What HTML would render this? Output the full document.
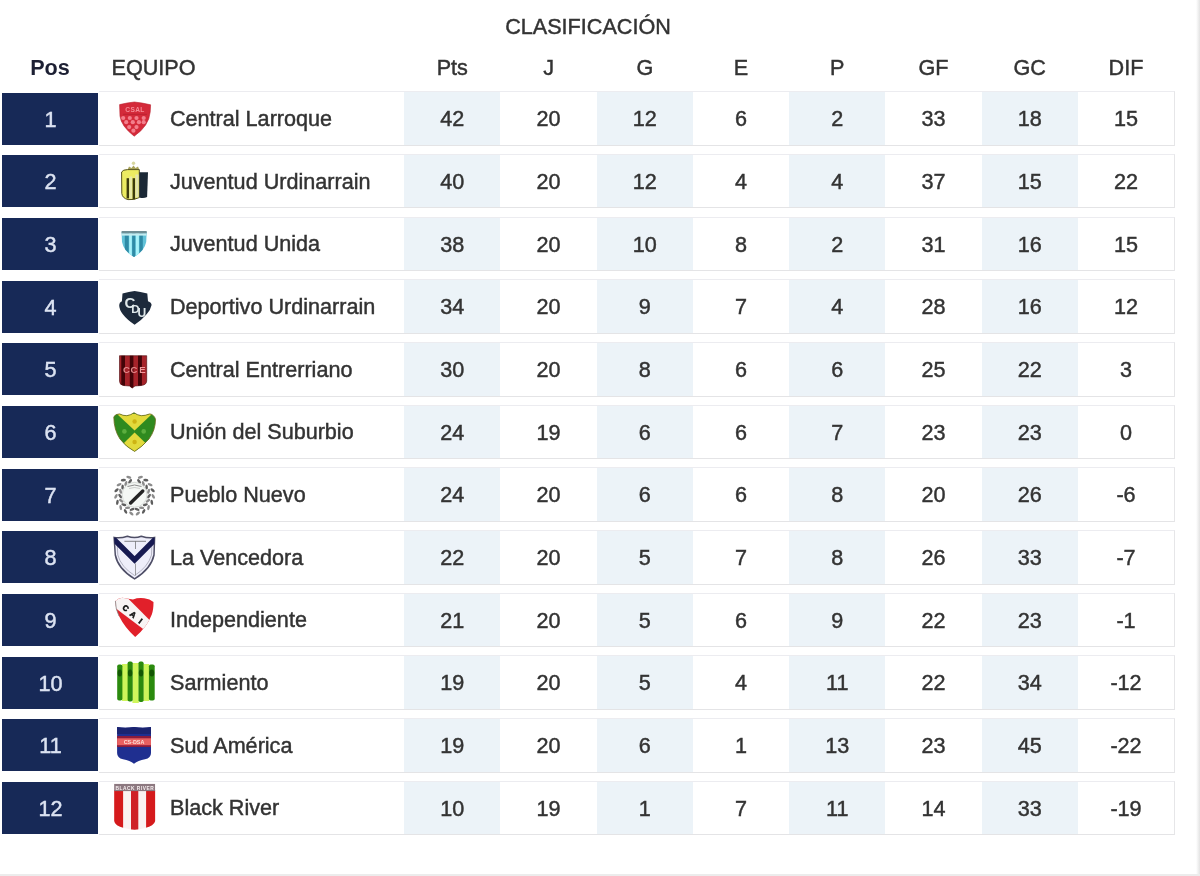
<!DOCTYPE html><html><head><meta charset="utf-8"><title>Clasificación</title><style>
*{margin:0;padding:0;box-sizing:border-box}
html,body{width:1200px;height:876px;overflow:hidden;background:#fff}
body{position:relative;font-family:"Liberation Sans",Arial,sans-serif;color:#333;font-size:21.6px;-webkit-text-stroke:0.45px currentColor}
svg text{-webkit-text-stroke:0}
.wrap{position:absolute;left:0;top:0;width:1200px;height:876px;background:#fff;filter:blur(0.45px)}
.s{display:inline-block;transform:scaleX(1.0)}
.sl{display:inline-block;transform:scaleX(1.0);transform-origin:0 50%}
.frame-r{position:absolute;right:0;top:0;width:4px;height:876px;background:linear-gradient(to right,#fff,#e3e3e3)}
.frame-b{position:absolute;left:0;bottom:0;width:1200px;height:2px;background:#ececec}
.title{position:absolute;left:0;width:1176px;top:14.8px;text-align:center;line-height:24px;color:#333}
.h{position:absolute;top:56px;line-height:24px;color:#333;text-align:center;width:96.25px}
.hpos{position:absolute;top:56px;left:2px;width:96px;text-align:center;font-weight:bold;line-height:24px;color:#1c1f33;-webkit-text-stroke:0}
.heq{position:absolute;top:56px;left:111.5px;line-height:24px;color:#333}
.row{position:absolute;left:98.5px;width:1076px;height:54.5px;border-top:1px solid #ececf0;border-bottom:1px solid #e4e4e6;border-right:1px solid #e6e6e8;background:#fff}
.pos{position:absolute;left:2.4px;width:96.1px;height:52px;background:#172957;color:#dce3f2;line-height:53px;text-align:center}
.team{position:absolute;left:71.5px;top:0.6px;line-height:52px;color:#333;white-space:nowrap}
.c{position:absolute;top:0;height:52.5px;text-align:center;line-height:53.4px;color:#333}
.c.b{background:#ecf3f8}
.logo{position:absolute;left:105px;width:60px;height:53px}
.logo svg{display:block}
</style></head><body><div class="wrap">
<div class="title"><span class="s">CLASIFICACIÓN</span></div>
<div class="hpos"><span class="s">Pos</span></div><div class="heq"><span class="sl">EQUIPO</span></div>
<div class="h" style="left:404.20px;width:96.24px"><span class="s">Pts</span></div>
<div class="h" style="left:500.44px;width:96.24px"><span class="s">J</span></div>
<div class="h" style="left:596.68px;width:96.24px"><span class="s">G</span></div>
<div class="h" style="left:692.92px;width:96.24px"><span class="s">E</span></div>
<div class="h" style="left:789.16px;width:96.24px"><span class="s">P</span></div>
<div class="h" style="left:885.40px;width:96.24px"><span class="s">GF</span></div>
<div class="h" style="left:981.64px;width:96.24px"><span class="s">GC</span></div>
<div class="h" style="left:1077.88px;width:96.24px"><span class="s">DIF</span></div>
<div class="pos" style="top:92.50px"><span class="s">1</span></div>
<div class="row" style="top:91.30px">
<div class="team"><span class="sl">Central Larroque</span></div>
<div class="c b" style="left:305.70px;width:96.24px"><span class="s">42</span></div>
<div class="c" style="left:401.94px;width:96.24px"><span class="s">20</span></div>
<div class="c b" style="left:498.18px;width:96.24px"><span class="s">12</span></div>
<div class="c" style="left:594.42px;width:96.24px"><span class="s">6</span></div>
<div class="c b" style="left:690.66px;width:96.24px"><span class="s">2</span></div>
<div class="c" style="left:786.90px;width:96.24px"><span class="s">33</span></div>
<div class="c b" style="left:883.14px;width:96.24px"><span class="s">18</span></div>
<div class="c" style="left:979.38px;width:96.24px"><span class="s">15</span></div>
</div>
<div class="pos" style="top:155.18px"><span class="s">2</span></div>
<div class="row" style="top:153.98px">
<div class="team"><span class="sl">Juventud Urdinarrain</span></div>
<div class="c b" style="left:305.70px;width:96.24px"><span class="s">40</span></div>
<div class="c" style="left:401.94px;width:96.24px"><span class="s">20</span></div>
<div class="c b" style="left:498.18px;width:96.24px"><span class="s">12</span></div>
<div class="c" style="left:594.42px;width:96.24px"><span class="s">4</span></div>
<div class="c b" style="left:690.66px;width:96.24px"><span class="s">4</span></div>
<div class="c" style="left:786.90px;width:96.24px"><span class="s">37</span></div>
<div class="c b" style="left:883.14px;width:96.24px"><span class="s">15</span></div>
<div class="c" style="left:979.38px;width:96.24px"><span class="s">22</span></div>
</div>
<div class="pos" style="top:217.86px"><span class="s">3</span></div>
<div class="row" style="top:216.66px">
<div class="team"><span class="sl">Juventud Unida</span></div>
<div class="c b" style="left:305.70px;width:96.24px"><span class="s">38</span></div>
<div class="c" style="left:401.94px;width:96.24px"><span class="s">20</span></div>
<div class="c b" style="left:498.18px;width:96.24px"><span class="s">10</span></div>
<div class="c" style="left:594.42px;width:96.24px"><span class="s">8</span></div>
<div class="c b" style="left:690.66px;width:96.24px"><span class="s">2</span></div>
<div class="c" style="left:786.90px;width:96.24px"><span class="s">31</span></div>
<div class="c b" style="left:883.14px;width:96.24px"><span class="s">16</span></div>
<div class="c" style="left:979.38px;width:96.24px"><span class="s">15</span></div>
</div>
<div class="pos" style="top:280.54px"><span class="s">4</span></div>
<div class="row" style="top:279.34px">
<div class="team"><span class="sl">Deportivo Urdinarrain</span></div>
<div class="c b" style="left:305.70px;width:96.24px"><span class="s">34</span></div>
<div class="c" style="left:401.94px;width:96.24px"><span class="s">20</span></div>
<div class="c b" style="left:498.18px;width:96.24px"><span class="s">9</span></div>
<div class="c" style="left:594.42px;width:96.24px"><span class="s">7</span></div>
<div class="c b" style="left:690.66px;width:96.24px"><span class="s">4</span></div>
<div class="c" style="left:786.90px;width:96.24px"><span class="s">28</span></div>
<div class="c b" style="left:883.14px;width:96.24px"><span class="s">16</span></div>
<div class="c" style="left:979.38px;width:96.24px"><span class="s">12</span></div>
</div>
<div class="pos" style="top:343.22px"><span class="s">5</span></div>
<div class="row" style="top:342.02px">
<div class="team"><span class="sl">Central Entrerriano</span></div>
<div class="c b" style="left:305.70px;width:96.24px"><span class="s">30</span></div>
<div class="c" style="left:401.94px;width:96.24px"><span class="s">20</span></div>
<div class="c b" style="left:498.18px;width:96.24px"><span class="s">8</span></div>
<div class="c" style="left:594.42px;width:96.24px"><span class="s">6</span></div>
<div class="c b" style="left:690.66px;width:96.24px"><span class="s">6</span></div>
<div class="c" style="left:786.90px;width:96.24px"><span class="s">25</span></div>
<div class="c b" style="left:883.14px;width:96.24px"><span class="s">22</span></div>
<div class="c" style="left:979.38px;width:96.24px"><span class="s">3</span></div>
</div>
<div class="pos" style="top:405.90px"><span class="s">6</span></div>
<div class="row" style="top:404.70px">
<div class="team"><span class="sl">Unión del Suburbio</span></div>
<div class="c b" style="left:305.70px;width:96.24px"><span class="s">24</span></div>
<div class="c" style="left:401.94px;width:96.24px"><span class="s">19</span></div>
<div class="c b" style="left:498.18px;width:96.24px"><span class="s">6</span></div>
<div class="c" style="left:594.42px;width:96.24px"><span class="s">6</span></div>
<div class="c b" style="left:690.66px;width:96.24px"><span class="s">7</span></div>
<div class="c" style="left:786.90px;width:96.24px"><span class="s">23</span></div>
<div class="c b" style="left:883.14px;width:96.24px"><span class="s">23</span></div>
<div class="c" style="left:979.38px;width:96.24px"><span class="s">0</span></div>
</div>
<div class="pos" style="top:468.58px"><span class="s">7</span></div>
<div class="row" style="top:467.38px">
<div class="team"><span class="sl">Pueblo Nuevo</span></div>
<div class="c b" style="left:305.70px;width:96.24px"><span class="s">24</span></div>
<div class="c" style="left:401.94px;width:96.24px"><span class="s">20</span></div>
<div class="c b" style="left:498.18px;width:96.24px"><span class="s">6</span></div>
<div class="c" style="left:594.42px;width:96.24px"><span class="s">6</span></div>
<div class="c b" style="left:690.66px;width:96.24px"><span class="s">8</span></div>
<div class="c" style="left:786.90px;width:96.24px"><span class="s">20</span></div>
<div class="c b" style="left:883.14px;width:96.24px"><span class="s">26</span></div>
<div class="c" style="left:979.38px;width:96.24px"><span class="s">-6</span></div>
</div>
<div class="pos" style="top:531.26px"><span class="s">8</span></div>
<div class="row" style="top:530.06px">
<div class="team"><span class="sl">La Vencedora</span></div>
<div class="c b" style="left:305.70px;width:96.24px"><span class="s">22</span></div>
<div class="c" style="left:401.94px;width:96.24px"><span class="s">20</span></div>
<div class="c b" style="left:498.18px;width:96.24px"><span class="s">5</span></div>
<div class="c" style="left:594.42px;width:96.24px"><span class="s">7</span></div>
<div class="c b" style="left:690.66px;width:96.24px"><span class="s">8</span></div>
<div class="c" style="left:786.90px;width:96.24px"><span class="s">26</span></div>
<div class="c b" style="left:883.14px;width:96.24px"><span class="s">33</span></div>
<div class="c" style="left:979.38px;width:96.24px"><span class="s">-7</span></div>
</div>
<div class="pos" style="top:593.94px"><span class="s">9</span></div>
<div class="row" style="top:592.74px">
<div class="team"><span class="sl">Independiente</span></div>
<div class="c b" style="left:305.70px;width:96.24px"><span class="s">21</span></div>
<div class="c" style="left:401.94px;width:96.24px"><span class="s">20</span></div>
<div class="c b" style="left:498.18px;width:96.24px"><span class="s">5</span></div>
<div class="c" style="left:594.42px;width:96.24px"><span class="s">6</span></div>
<div class="c b" style="left:690.66px;width:96.24px"><span class="s">9</span></div>
<div class="c" style="left:786.90px;width:96.24px"><span class="s">22</span></div>
<div class="c b" style="left:883.14px;width:96.24px"><span class="s">23</span></div>
<div class="c" style="left:979.38px;width:96.24px"><span class="s">-1</span></div>
</div>
<div class="pos" style="top:656.62px"><span class="s">10</span></div>
<div class="row" style="top:655.42px">
<div class="team"><span class="sl">Sarmiento</span></div>
<div class="c b" style="left:305.70px;width:96.24px"><span class="s">19</span></div>
<div class="c" style="left:401.94px;width:96.24px"><span class="s">20</span></div>
<div class="c b" style="left:498.18px;width:96.24px"><span class="s">5</span></div>
<div class="c" style="left:594.42px;width:96.24px"><span class="s">4</span></div>
<div class="c b" style="left:690.66px;width:96.24px"><span class="s">11</span></div>
<div class="c" style="left:786.90px;width:96.24px"><span class="s">22</span></div>
<div class="c b" style="left:883.14px;width:96.24px"><span class="s">34</span></div>
<div class="c" style="left:979.38px;width:96.24px"><span class="s">-12</span></div>
</div>
<div class="pos" style="top:719.30px"><span class="s">11</span></div>
<div class="row" style="top:718.10px">
<div class="team"><span class="sl">Sud América</span></div>
<div class="c b" style="left:305.70px;width:96.24px"><span class="s">19</span></div>
<div class="c" style="left:401.94px;width:96.24px"><span class="s">20</span></div>
<div class="c b" style="left:498.18px;width:96.24px"><span class="s">6</span></div>
<div class="c" style="left:594.42px;width:96.24px"><span class="s">1</span></div>
<div class="c b" style="left:690.66px;width:96.24px"><span class="s">13</span></div>
<div class="c" style="left:786.90px;width:96.24px"><span class="s">23</span></div>
<div class="c b" style="left:883.14px;width:96.24px"><span class="s">45</span></div>
<div class="c" style="left:979.38px;width:96.24px"><span class="s">-22</span></div>
</div>
<div class="pos" style="top:781.98px"><span class="s">12</span></div>
<div class="row" style="top:780.78px">
<div class="team"><span class="sl">Black River</span></div>
<div class="c b" style="left:305.70px;width:96.24px"><span class="s">10</span></div>
<div class="c" style="left:401.94px;width:96.24px"><span class="s">19</span></div>
<div class="c b" style="left:498.18px;width:96.24px"><span class="s">1</span></div>
<div class="c" style="left:594.42px;width:96.24px"><span class="s">7</span></div>
<div class="c b" style="left:690.66px;width:96.24px"><span class="s">11</span></div>
<div class="c" style="left:786.90px;width:96.24px"><span class="s">14</span></div>
<div class="c b" style="left:883.14px;width:96.24px"><span class="s">33</span></div>
<div class="c" style="left:979.38px;width:96.24px"><span class="s">-19</span></div>
</div>
<div class="logo" style="top:92px"><svg width="60" height="53" viewBox="0 0 60 53"><path d="M14.6,12.6 Q22,10.8 29.4,10 Q37,10.8 45.6,12.8 L45.2,20 Q44,34 29.2,44.2 Q16,34 15,24 Z" fill="#d42a3a" stroke="#b8202e" stroke-width="0.6"/><text x="29.8" y="20.4" font-family="Liberation Sans" font-weight="bold" font-size="6.6" fill="#f58b96" text-anchor="middle" textLength="19">CSAL</text><line x1="18" y1="22.3" x2="42" y2="22.3" stroke="#b81e2e" stroke-width="0.8"/><circle cx="18.2" cy="26" r="2.1" fill="#f37f8c"/><circle cx="24.8" cy="26" r="2.1" fill="#f37f8c"/><circle cx="31.5" cy="26" r="2.1" fill="#f37f8c"/><circle cx="38.7" cy="26" r="2.1" fill="#f37f8c"/><circle cx="21.2" cy="30.2" r="2.1" fill="#f37f8c"/><circle cx="27.8" cy="30.2" r="2.1" fill="#f37f8c"/><circle cx="33.9" cy="30.2" r="2.1" fill="#f37f8c"/><circle cx="38.7" cy="30.2" r="2.1" fill="#f37f8c"/><circle cx="24.2" cy="35.1" r="2.1" fill="#f37f8c"/><circle cx="31.5" cy="35.1" r="2.1" fill="#f37f8c"/><circle cx="28.4" cy="38.7" r="2.1" fill="#f37f8c"/></svg></div>
<div class="logo" style="top:155px"><svg width="60" height="53" viewBox="0 0 60 53"><circle cx="28.5" cy="8.2" r="1.7" fill="#d8d7a0"/><path d="M22.6,14.8 L24,11.6 L26.5,13 L28.5,10.6 L30.5,13 L33,11.6 L34.3,14.8 Z" fill="#a9a45a"/><path d="M16.6,17 Q18,14.6 22.6,14.6 L34.3,14.6 L34.3,42.5 Q29,45.3 23,44.6 Q17.4,43.2 16.8,38.5 Z" fill="#ecec62" stroke="#55521e" stroke-width="1"/><path d="M34.3,17.2 L43,17.2 L42.1,42 Q38.5,43.6 34.3,42.4 Z" fill="#1b2836"/><rect x="21.6" y="23.2" width="2.5" height="20.2" fill="#3c3b0c"/><rect x="27.5" y="23.2" width="2.6" height="21" fill="#3c3b0c"/><rect x="24.3" y="21.5" width="2.9" height="22.2" fill="#e9eaa6"/><rect x="30.4" y="19.5" width="3.1" height="23" fill="#e4e5ae"/></svg></div>
<div class="logo" style="top:218px"><svg width="60" height="53" viewBox="0 0 60 53"><defs><clipPath id="c3"><path d="M16.6,14 L41.7,14 L41.2,24 Q39.5,33 29,38.9 Q18.5,33 17,24 Z"/></clipPath></defs><path d="M16.6,14 L41.7,14 L41.2,24 Q39.5,33 29,38.9 Q18.5,33 17,24 Z" fill="#62c2d8"/><g clip-path="url(#c3)"><rect x="19.8" y="15" width="3.9" height="26" fill="#2f8ba6"/><rect x="27.2" y="15" width="3" height="26" fill="#2f8ba6"/><rect x="34.4" y="15" width="3.4" height="26" fill="#2f8ba6"/><rect x="24.2" y="15" width="2.6" height="26" fill="#a8f3fa"/><rect x="30.9" y="15" width="3" height="26" fill="#a8f3fa"/></g><rect x="17" y="15.2" width="24.4" height="2.4" fill="#c4ecf0"/><rect x="16.6" y="13" width="25.1" height="2.3" fill="#6f8f96"/></svg></div>
<div class="logo" style="top:280px"><svg width="60" height="53" viewBox="0 0 60 53"><path d="M17.5,13.6 Q24,11.5 29.6,10.9 Q35,11.5 42.3,13.6 L43,21.2 Q46.6,22.5 46.6,25 Q45,34 29.6,44.8 Q14,34 14.2,25 Q14.2,22.5 16.9,21.2 Z" fill="#1d2a3b"/><text x="19.6" y="27.6" font-family="Liberation Sans" font-weight="bold" font-size="15" fill="#dfe8ea">C</text><text x="26.2" y="32.6" font-family="Liberation Sans" font-weight="bold" font-size="11.5" fill="#dfe8ea">D</text><text x="32.4" y="37.2" font-family="Liberation Sans" font-weight="bold" font-size="12" fill="#dfe8ea">U</text></svg></div>
<div class="logo" style="top:343px"><svg width="60" height="53" viewBox="0 0 60 53"><defs><clipPath id="c5"><path d="M14.5,12.7 L41.7,12.7 L41.7,38 Q41.5,42 36,42.5 L30,43 L27.2,45.1 L24.5,43 L18.5,42.5 Q14.5,42 14.5,38 Z"/></clipPath></defs><path d="M14.5,12.7 L41.7,12.7 L41.7,38 Q41.5,42 36,42.5 L30,43 L27.2,45.1 L24.5,43 L18.5,42.5 Q14.5,42 14.5,38 Z" fill="#a6232a" stroke="#4a080c" stroke-width="0.6"/><g clip-path="url(#c5)"><rect x="16.3" y="12" width="3.7" height="35" fill="#420408"/><rect x="24.8" y="12" width="3.6" height="35" fill="#420408"/><rect x="33" y="12" width="3.9" height="35" fill="#420408"/></g><text x="18" y="30" font-family="Liberation Sans" font-weight="bold" font-size="9.5" fill="#e48a8c">C</text><text x="25.4" y="30" font-family="Liberation Sans" font-weight="bold" font-size="9.5" fill="#e48a8c">C</text><text x="34.3" y="30" font-family="Liberation Sans" font-weight="bold" font-size="9.5" fill="#f09a9c">E</text></svg></div>
<div class="logo" style="top:406px"><svg width="60" height="53" viewBox="0 0 60 53"><defs><clipPath id="c6"><path d="M8.8,11 Q10,8 14.5,7.9 Q18,9.7 21.8,9.7 Q26,9 29,6.7 Q32,9 36.3,9.7 Q40,9.7 44.8,7.9 Q49,8.5 50.5,13.3 Q50.5,24 44,33 Q37,41 29.6,45.4 Q21,41 15,33 Q9,24 8.8,11 Z"/></clipPath></defs><path d="M8.8,11 Q10,8 14.5,7.9 Q18,9.7 21.8,9.7 Q26,9 29,6.7 Q32,9 36.3,9.7 Q40,9.7 44.8,7.9 Q49,8.5 50.5,13.3 Q50.5,24 44,33 Q37,41 29.6,45.4 Q21,41 15,33 Q9,24 8.8,11 Z" fill="#2f8a1f"/><g clip-path="url(#c6)"><path d="M12,8 L47,8 L29.6,24.5 Z" fill="#e2da3c"/><path d="M29.6,26.5 L41,37.5 L29.6,47 L18.5,37.5 Z" fill="#e2da3c"/></g><circle cx="19.4" cy="25.4" r="2.3" fill="#5cae3e"/><circle cx="38.7" cy="25.4" r="2.3" fill="#5cae3e"/><circle cx="29.6" cy="15.5" r="2.2" fill="#cdb414"/><circle cx="29.6" cy="36" r="2.2" fill="#cdb414"/><path d="M8.8,11 Q10,8 14.5,7.9 Q18,9.7 21.8,9.7 Q26,9 29,6.7 Q32,9 36.3,9.7 Q40,9.7 44.8,7.9 Q49,8.5 50.5,13.3 Q50.5,24 44,33 Q37,41 29.6,45.4 Q21,41 15,33 Q9,24 8.8,11 Z" fill="none" stroke="#6b6a1c" stroke-width="0.8"/></svg></div>
<div class="logo" style="top:468px"><svg width="60" height="53" viewBox="0 0 60 53"><circle cx="29.6" cy="26.8" r="13.2" fill="#f3f6f3"/><ellipse cx="27.08" cy="41.38" rx="2.6" ry="1.3" transform="rotate(158.0 27.08 41.38)" fill="#5e5e5e"/><ellipse cx="26.35" cy="45.52" rx="2.6" ry="1.3" transform="rotate(222.0 26.35 45.52)" fill="#8c8c8c"/><ellipse cx="22.57" cy="39.78" rx="2.6" ry="1.3" transform="rotate(177.0 22.57 39.78)" fill="#8c8c8c"/><ellipse cx="20.53" cy="43.46" rx="2.6" ry="1.3" transform="rotate(241.0 20.53 43.46)" fill="#5e5e5e"/><ellipse cx="18.82" cy="36.80" rx="2.6" ry="1.3" transform="rotate(196.0 18.82 36.80)" fill="#5e5e5e"/><ellipse cx="15.70" cy="39.61" rx="2.6" ry="1.3" transform="rotate(260.0 15.70 39.61)" fill="#8c8c8c"/><ellipse cx="16.25" cy="32.77" rx="2.6" ry="1.3" transform="rotate(215.0 16.25 32.77)" fill="#8c8c8c"/><ellipse cx="12.39" cy="34.41" rx="2.6" ry="1.3" transform="rotate(279.0 12.39 34.41)" fill="#5e5e5e"/><ellipse cx="15.14" cy="28.11" rx="2.6" ry="1.3" transform="rotate(234.0 15.14 28.11)" fill="#5e5e5e"/><ellipse cx="10.95" cy="28.40" rx="2.6" ry="1.3" transform="rotate(298.0 10.95 28.40)" fill="#8c8c8c"/><ellipse cx="15.59" cy="23.35" rx="2.6" ry="1.3" transform="rotate(253.0 15.59 23.35)" fill="#8c8c8c"/><ellipse cx="11.54" cy="22.26" rx="2.6" ry="1.3" transform="rotate(317.0 11.54 22.26)" fill="#5e5e5e"/><ellipse cx="17.58" cy="18.99" rx="2.6" ry="1.3" transform="rotate(272.0 17.58 18.99)" fill="#5e5e5e"/><ellipse cx="14.10" cy="16.64" rx="2.6" ry="1.3" transform="rotate(336.0 14.10 16.64)" fill="#8c8c8c"/><ellipse cx="20.87" cy="15.52" rx="2.6" ry="1.3" transform="rotate(291.0 20.87 15.52)" fill="#8c8c8c"/><ellipse cx="18.35" cy="12.17" rx="2.6" ry="1.3" transform="rotate(355.0 18.35 12.17)" fill="#5e5e5e"/><ellipse cx="25.12" cy="13.31" rx="2.6" ry="1.3" transform="rotate(310.0 25.12 13.31)" fill="#5e5e5e"/><ellipse cx="23.82" cy="9.32" rx="2.6" ry="1.3" transform="rotate(374.0 23.82 9.32)" fill="#8c8c8c"/><ellipse cx="32.12" cy="41.38" rx="2.6" ry="1.3" transform="rotate(22.0 32.12 41.38)" fill="#5e5e5e"/><ellipse cx="32.85" cy="45.52" rx="2.6" ry="1.3" transform="rotate(-42.0 32.85 45.52)" fill="#8c8c8c"/><ellipse cx="36.63" cy="39.78" rx="2.6" ry="1.3" transform="rotate(3.0 36.63 39.78)" fill="#8c8c8c"/><ellipse cx="38.67" cy="43.46" rx="2.6" ry="1.3" transform="rotate(-61.0 38.67 43.46)" fill="#5e5e5e"/><ellipse cx="40.38" cy="36.80" rx="2.6" ry="1.3" transform="rotate(-16.0 40.38 36.80)" fill="#5e5e5e"/><ellipse cx="43.50" cy="39.61" rx="2.6" ry="1.3" transform="rotate(-80.0 43.50 39.61)" fill="#8c8c8c"/><ellipse cx="42.95" cy="32.77" rx="2.6" ry="1.3" transform="rotate(-35.0 42.95 32.77)" fill="#8c8c8c"/><ellipse cx="46.81" cy="34.41" rx="2.6" ry="1.3" transform="rotate(-99.0 46.81 34.41)" fill="#5e5e5e"/><ellipse cx="44.06" cy="28.11" rx="2.6" ry="1.3" transform="rotate(-54.0 44.06 28.11)" fill="#5e5e5e"/><ellipse cx="48.25" cy="28.40" rx="2.6" ry="1.3" transform="rotate(-118.0 48.25 28.40)" fill="#8c8c8c"/><ellipse cx="43.61" cy="23.35" rx="2.6" ry="1.3" transform="rotate(-73.0 43.61 23.35)" fill="#8c8c8c"/><ellipse cx="47.66" cy="22.26" rx="2.6" ry="1.3" transform="rotate(-137.0 47.66 22.26)" fill="#5e5e5e"/><ellipse cx="41.62" cy="18.99" rx="2.6" ry="1.3" transform="rotate(-92.0 41.62 18.99)" fill="#5e5e5e"/><ellipse cx="45.10" cy="16.64" rx="2.6" ry="1.3" transform="rotate(-156.0 45.10 16.64)" fill="#8c8c8c"/><ellipse cx="38.33" cy="15.52" rx="2.6" ry="1.3" transform="rotate(-111.0 38.33 15.52)" fill="#8c8c8c"/><ellipse cx="40.85" cy="12.17" rx="2.6" ry="1.3" transform="rotate(-175.0 40.85 12.17)" fill="#5e5e5e"/><ellipse cx="34.08" cy="13.31" rx="2.6" ry="1.3" transform="rotate(-130.0 34.08 13.31)" fill="#5e5e5e"/><ellipse cx="35.38" cy="9.32" rx="2.6" ry="1.3" transform="rotate(-194.0 35.38 9.32)" fill="#8c8c8c"/><circle cx="29.6" cy="26.8" r="12.4" fill="#f4f7f4" stroke="#c4c8c4" stroke-width="0.6"/><path d="M22.5,18.5 Q29.6,15.5 36.5,18.5" fill="none" stroke="#8d8d8d" stroke-width="1"/><path d="M24,20.5 Q29.6,18.5 35,20.5" fill="none" stroke="#b0b0b0" stroke-width="0.6"/><line x1="25.6" y1="35" x2="37.8" y2="23" stroke="#232323" stroke-width="3.4" stroke-linecap="round"/></svg></div>
<div class="logo" style="top:531px"><svg width="60" height="53" viewBox="0 0 60 53"><defs><clipPath id="c8"><path d="M9.1,6.5 Q16,7.5 22.4,5.2 Q29.6,8 36.3,5.2 Q43,7.5 49.6,6.5 L49,24 Q46,38 29.6,47.8 Q13,38 10.3,24 Z"/></clipPath></defs><path d="M9.1,6.5 Q16,7.5 22.4,5.2 Q29.6,8 36.3,5.2 Q43,7.5 49.6,6.5 L49,24 Q46,38 29.6,47.8 Q13,38 10.3,24 Z" fill="#eeeefa" stroke="#4e4e66" stroke-width="1.5"/><path d="M12,10 L12.8,24 Q16,36 29.6,44.5 Q43,36 46.5,24 L47,10" fill="none" stroke="#9a9aaa" stroke-width="0.7"/><line x1="19.4" y1="10.3" x2="41" y2="10.3" stroke="#555" stroke-width="0.7"/><line x1="30.5" y1="10.3" x2="30.5" y2="18" stroke="#666" stroke-width="0.7"/><line x1="30.5" y1="32.5" x2="30.5" y2="44.5" stroke="#777" stroke-width="0.7"/><g clip-path="url(#c8)"><polyline points="8,7.5 29.6,29 51,7.5" fill="none" stroke="#171a52" stroke-width="5.4"/></g></svg></div>
<div class="logo" style="top:594px"><svg width="60" height="53" viewBox="0 0 60 53"><defs><clipPath id="c9"><path d="M10.4,7 Q13,4 17.3,3.8 L28,5.4 Q33,3.6 39.3,4.3 Q45,5 48.5,8 Q48.5,16 46.8,20.4 Q42,33 30.2,42.9 Q20,34 14,22 Q10.4,15 10.4,7 Z"/></clipPath></defs><path d="M10.4,7 Q13,4 17.3,3.8 L28,5.4 Q33,3.6 39.3,4.3 Q45,5 48.5,8 Q48.5,16 46.8,20.4 Q42,33 30.2,42.9 Q20,34 14,22 Q10.4,15 10.4,7 Z" fill="#e1202a"/><g clip-path="url(#c9)"><polygon points="0,0 18.6,0 62,43.4 60,51.5 0,6.3" fill="#f8f4f4"/></g><path d="M10.4,7 Q10.4,15 14,22" fill="none" stroke="#888" stroke-width="0.8"/><text transform="translate(20.6,14.2) rotate(38)" y="2.7" font-family="Liberation Sans" font-weight="bold" font-size="7.8" fill="#141414" stroke="#141414" stroke-width="0.55" text-anchor="middle">C</text><text transform="translate(28.2,20.6) rotate(38)" y="2.7" font-family="Liberation Sans" font-weight="bold" font-size="7.8" fill="#141414" stroke="#141414" stroke-width="0.55" text-anchor="middle">A</text><text transform="translate(35.4,27.1) rotate(38)" y="2.7" font-family="Liberation Sans" font-weight="bold" font-size="7.8" fill="#141414" stroke="#141414" stroke-width="0.55" text-anchor="middle">I</text></svg></div>
<div class="logo" style="top:656px"><svg width="60" height="53" viewBox="0 0 60 53"><rect x="17" y="8" width="6" height="37" fill="#cdf45a"/><rect x="27.4" y="7" width="6.4" height="40" fill="#d0f65c"/><rect x="38.2" y="8" width="6" height="37" fill="#cdf45a"/><rect x="12.2" y="8.5" width="5.2" height="36" rx="1.8" fill="#2b8a0e"/><rect x="22.6" y="5.5" width="5.1" height="40" rx="1.8" fill="#2b8a0e"/><rect x="33.5" y="5.5" width="5.1" height="40.5" rx="1.8" fill="#2b8a0e"/><rect x="43.9" y="8.5" width="5.8" height="36" rx="1.8" fill="#2b8a0e"/><ellipse cx="14.8" cy="17" rx="2.2" ry="3.5" fill="#135604"/><ellipse cx="25.1" cy="17" rx="2.2" ry="3.5" fill="#135604"/><ellipse cx="36" cy="17" rx="2.2" ry="3.5" fill="#135604"/><ellipse cx="46.8" cy="17" rx="2.4" ry="3.5" fill="#135604"/></svg></div>
<div class="logo" style="top:719px"><svg width="60" height="53" viewBox="0 0 60 53"><defs><clipPath id="c11"><path d="M12.1,8 Q20,9.5 29,8 Q38,9.5 46,8 L46,34 Q46,39 40,40.3 Q33,41.6 29,44.8 Q25,41.6 18,40.3 Q12.1,39 12.1,34 Z"/></clipPath></defs><path d="M12.1,8 Q20,9.5 29,8 Q38,9.5 46,8 L46,34 Q46,39 40,40.3 Q33,41.6 29,44.8 Q25,41.6 18,40.3 Q12.1,39 12.1,34 Z" fill="#1f2f90"/><g clip-path="url(#c11)"><rect x="10" y="7" width="40" height="8" fill="#1b2470"/><rect x="10" y="17" width="40" height="11" fill="#8a1c3c"/><rect x="10" y="19.3" width="40" height="6.9" fill="#e86060"/></g><text x="29" y="25" font-family="Liberation Sans" font-weight="bold" font-size="5.4" fill="#fde0d8" text-anchor="middle">CS-DSA</text></svg></div>
<div class="logo" style="top:782px"><svg width="60" height="53" viewBox="0 0 60 53"><defs><clipPath id="c12"><path d="M9.1,1.8 L50.2,1.8 L50.2,39 Q49,44 40,46 Q34,47.5 29.6,47.8 Q25,47.5 19,46 Q10,44 9.1,39 Z"/></clipPath></defs><path d="M9.1,1.8 L50.2,1.8 L50.2,39 Q49,44 40,46 Q34,47.5 29.6,47.8 Q25,47.5 19,46 Q10,44 9.1,39 Z" fill="#faf2f2"/><g clip-path="url(#c12)"><rect x="9.1" y="8" width="9" height="42" fill="#d51a1c"/><rect x="26" y="8" width="7.3" height="42" fill="#cf2026"/><rect x="41.1" y="8" width="9.5" height="42" fill="#d51a1c"/><rect x="9.1" y="1.8" width="41.1" height="7.3" fill="#8c7880"/></g><text x="29.6" y="7.6" font-family="Liberation Sans" font-weight="bold" font-size="4.8" fill="#f8f0f0" text-anchor="middle" textLength="38">BLACK RIVER</text></svg></div>
<div class="frame-r"></div><div class="frame-b"></div>
</div></body></html>
